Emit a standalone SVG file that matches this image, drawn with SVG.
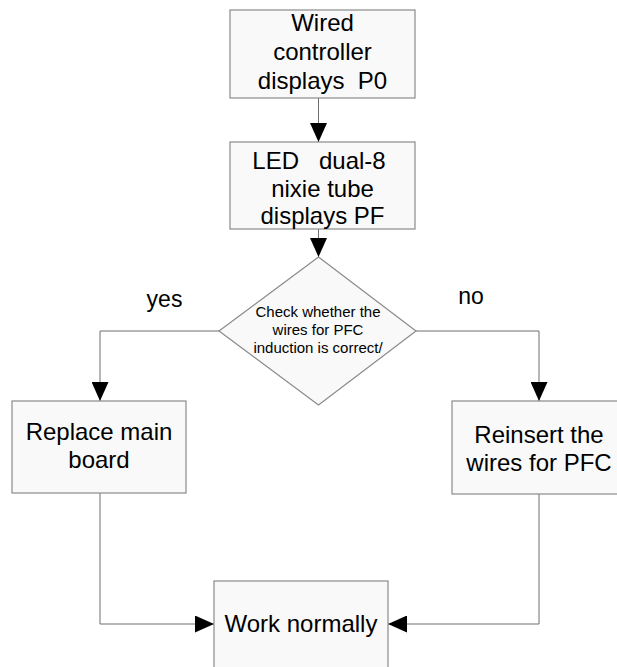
<svg xmlns="http://www.w3.org/2000/svg" width="617" height="667" viewBox="0 0 617 667">
<style>
.box{fill:#f9f9f9;stroke:#8a8a8a;stroke-width:1.2}
.t{font-family:"Liberation Sans",Arial,sans-serif;font-size:24px;fill:#000;text-anchor:middle}
.s{font-family:"Liberation Sans",Arial,sans-serif;font-size:15px;fill:#000;text-anchor:middle}
.c{fill:none;stroke:#6e6e6e;stroke-width:1}
</style>
<defs>
<marker id="ah" markerUnits="userSpaceOnUse" markerWidth="19" markerHeight="17" refX="19" refY="8.5" orient="auto">
<path d="M0,0 L19,8.5 L0,17 z" fill="#000"/>
</marker>
</defs>
<rect width="617" height="667" fill="#fff"/>
<g id="connectors">
<path class="c" d="M318.5,98 V142" marker-end="url(#ah)"/>
<path class="c" d="M318.5,229 V257" marker-end="url(#ah)"/>
<path class="c" d="M219,331 H100 V401" marker-end="url(#ah)"/>
<path class="c" d="M416,331 H539 V401" marker-end="url(#ah)"/>
<path class="c" d="M100,493 V624 H214" marker-end="url(#ah)"/>
<path class="c" d="M539,494 V624 H388" marker-end="url(#ah)"/>
</g>
<g id="n1">
<rect class="box" x="230" y="10" width="185" height="88"/>
<text class="t" x="322.5" y="31">Wired</text>
<text class="t" x="322.5" y="60">controller</text>
<text class="t" x="322.5" y="89" xml:space="preserve">displays  P0</text>
</g>
<g id="n2">
<rect class="box" x="230" y="142" width="185" height="87"/>
<text class="t" x="319" y="169" xml:space="preserve">LED   dual-8</text>
<text class="t" x="322.5" y="197">nixie tube</text>
<text class="t" x="322.5" y="224">displays PF</text>
</g>
<g id="n3">
<polygon class="box" points="318.5,257 416,331 318.5,405 219,331"/>
<text class="s" x="318" y="317">Check whether the</text>
<text class="s" x="318" y="335">wires for PFC</text>
<text class="s" x="318" y="353">induction is correct/</text>
</g>
<g id="lbl">
<text class="t" x="164.5" y="307" style="font-size:23px">yes</text>
<text class="t" x="471" y="304" style="font-size:23px">no</text>
</g>
<g id="n4">
<rect class="box" x="12" y="401" width="174" height="92"/>
<text class="t" x="99" y="440">Replace main</text>
<text class="t" x="99" y="468">board</text>
</g>
<g id="n5">
<rect class="box" x="452" y="401" width="174" height="93"/>
<text class="t" x="539" y="443">Reinsert the</text>
<text class="t" x="539" y="471">wires for PFC</text>
</g>
<g id="n6">
<rect class="box" x="214" y="581" width="174" height="100"/>
<text class="t" x="301" y="632">Work normally</text>
</g>
</svg>
